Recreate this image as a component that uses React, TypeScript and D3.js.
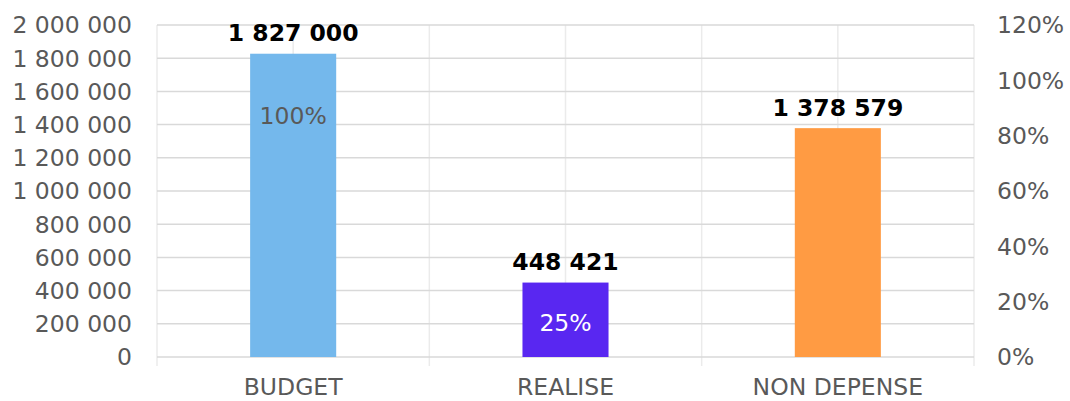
import React from "react";
import * as d3 from "d3";

const categories = ["BUDGET", "REALISE", "NON DEPENSE"];
const values = [1827000, 448421, 1378579];
const percents: (number | null)[] = [100, 25, null];
const barColors = ["#74B8EC", "#5927F1", "#FF9B43"];
const percentColors = ["#595959", "#FFFFFF", "#595959"];
const leftTicks = [0, 200000, 400000, 600000, 800000, 1000000, 1200000, 1400000, 1600000, 1800000, 2000000];
const rightTicks = [0, 20, 40, 60, 80, 100, 120];

const W = 1070;
const H = 401;
const left = 157;
const right = 974;
const top = 25;
const bottom = 357;
const FONT = "'DejaVu Sans', Verdana, sans-serif";

const fmt = (v: number) => d3.format(",")(v).replace(/,/g, " ");

export default function App() {
  const x = d3.scaleBand<string>().domain(categories).range([left, right]).paddingInner(0).paddingOuter(0);
  const y = d3.scaleLinear().domain([0, 2000000]).range([bottom, top]);
  const y2 = d3.scaleLinear().domain([0, 120]).range([bottom, top]);
  const bw = x.bandwidth();
  const barW = bw * 0.316;

  const vLines: number[] = [];
  for (let i = 0; i <= categories.length * 2; i++) vLines.push(left + (bw / 2) * i);

  return (
    <div style={{ position: "absolute", left: 0, top: 0 }}>
      <svg width={W} height={H} style={{ display: "block", background: "#fff" }}>
        {vLines.map((vx, i) => (
          <line key={"v" + i} x1={vx} x2={vx} y1={top} y2={i % 2 === 0 ? bottom + 9 : bottom} stroke="#EBEBEB" strokeWidth={1.5} />
        ))}
        {leftTicks.map((t) => (
          <line key={"h" + t} x1={left} x2={right} y1={y(t)} y2={y(t)} stroke="#D9D9D9" strokeWidth={1.5} />
        ))}
        {leftTicks.map((t) => (
          <text key={"lt" + t} x={132} y={y(t)} dy="0.36em" textAnchor="end" fontFamily={FONT} fontSize={23.5} fill="#595959">
            {fmt(t)}
          </text>
        ))}
        {rightTicks.map((t) => (
          <text key={"rt" + t} x={997} y={y2(t)} dy="0.36em" textAnchor="start" fontFamily={FONT} fontSize={23.5} fill="#595959">
            {t + "%"}
          </text>
        ))}
        {categories.map((c, i) => {
          const cx = (x(c) as number) + bw / 2;
          return (
            <g key={c}>
              <rect x={cx - barW / 2} y={y(values[i])} width={barW} height={bottom - y(values[i])} fill={barColors[i]} />
              <text x={cx} y={y(values[i]) - 12.5} textAnchor="middle" fontFamily={FONT} fontWeight="bold" fontSize={23.5} fill="#000">
                {fmt(values[i])}
              </text>
              {percents[i] !== null && (
                <text x={cx} y={y2(percents[i] as number) + 35} dy="0.36em" textAnchor="middle" fontFamily={FONT} fontSize={23.5} fill={percentColors[i]}>
                  {percents[i] + "%"}
                </text>
              )}
              <text x={cx} y={395} textAnchor="middle" fontFamily={FONT} fontSize={23.5} fill="#595959">
                {c}
              </text>
            </g>
          );
        })}
      </svg>
    </div>
  );
}
